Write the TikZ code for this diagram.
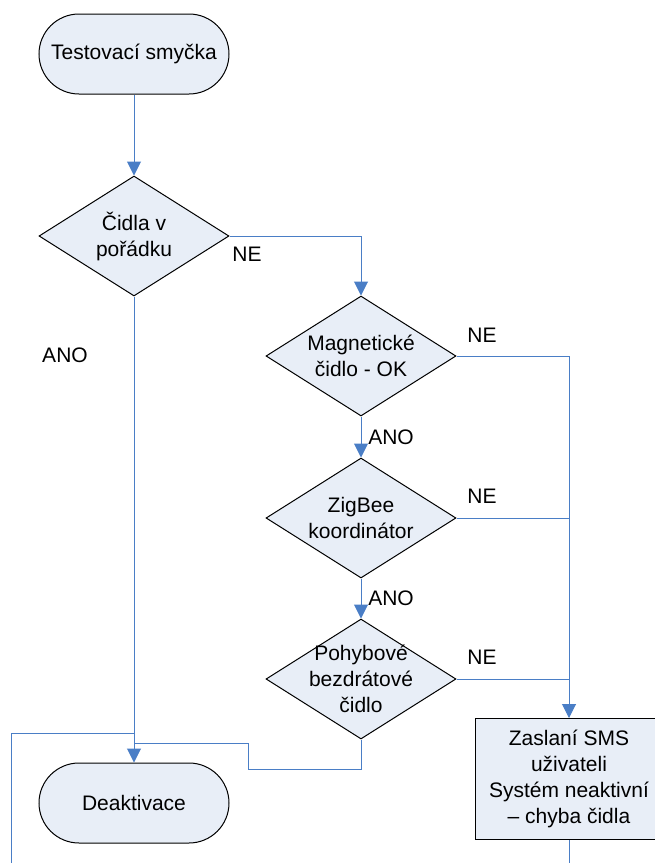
\documentclass[tikz,border=0pt]{standalone}
\usepackage{fontspec}
\setmainfont{Liberation Sans}
\usetikzlibrary{shapes.geometric}
\usetikzlibrary{arrows.meta}

\definecolor{flowblue}{RGB}{74,126,198}
\definecolor{shapefill}{RGB}{232,238,247}

\tikzset{
    terminal/.style={draw, line width=1pt, fill=shapefill, rectangle, rounded corners=40pt,
        minimum width=190pt, minimum height=80pt, inner sep=0pt},
    decision/.style={draw, line width=1pt, fill=shapefill, diamond, aspect=1.58,
        minimum width=190pt, minimum height=120pt, inner sep=0pt, align=center},
    process/.style={draw, line width=1pt, fill=shapefill, rectangle,
        minimum width=188pt, minimum height=121pt, inner sep=0pt, align=center},
    flow/.style={draw=flowblue, line width=1pt},
    flowarrow/.style={flow, -{Triangle[width=14pt,length=14pt]}, flowblue}
}

\begin{document}
\begin{tikzpicture}[x=1pt,y=-1pt]
    \useasboundingbox (0,0) rectangle (655,863);
    \begin{scope}[font=\fontsize{21}{26}\selectfont]
    % Shapes:
    \node [terminal] (start) at (134,54)  {Testovací smyčka};
    \node [decision] (cidla) at (134,236) {Čidla v\\pořádku};
    \node [decision] (magnet) at (361,356) {Magnetické\\čidlo - OK};
    \node [decision] (zigbee) at (361,518) {ZigBee\\koordinátor};
    % text of the last test is larger than its diamond
    \node [decision] (pohyb) at (361,679) {};
    \node [align=center, inner sep=0pt] (pohybtext) at (pohyb) {Pohybové\\bezdrátové\\čidlo};
    \node [process] (sms) at (569,779) {Zaslaní SMS\\uživateli\\Systém neaktivní\\– chyba čidla};
    \node [terminal] (deakt) at (134,803) {Deaktivace};

    % Free ends and bends of the connectors:
    \coordinate (bendlow) at (248,769);
    \coordinate (bendhigh) at (248,743);
    \coordinate (loopin) at (11,863);
    \coordinate (smsout) at (569,863);

    % Connectors:
    \draw [flowarrow] (start) -- (cidla);
    \draw [flowarrow] (cidla.east) -| (magnet.north);
    \draw [flowarrow] (magnet) -- (zigbee);
    \draw [flowarrow] (zigbee) -- (pohyb);
    \draw [flowarrow] (magnet.east) -| (sms.north);
    \draw [flow] (zigbee.east) -- (zigbee.east -| sms.north);
    \draw [flow] (pohyb.east) -- (pohyb.east -| sms.north);
    \draw [flowarrow] (cidla.south) -- (deakt.north);
    \draw [flow] (pohyb.south) |- (bendlow) -- (bendhigh) -- (bendhigh -| deakt.north);
    \draw [flow] (loopin) |- (deakt.north |- 0,733);
    \draw [flow] (sms.south) -- (smsout);

    % Labels:
    \node (ne1) at (247,254) {NE};
    \node (ne2) at (482,335) {NE};
    \node (ne3) at (482,496) {NE};
    \node (ne4) at (482,657) {NE};
    \node (ano1) at (65,355) {ANO};
    \node (ano2) at (391,437) {ANO};
    \node (ano3) at (391,598) {ANO};
    \end{scope}
\end{tikzpicture}
\end{document}
